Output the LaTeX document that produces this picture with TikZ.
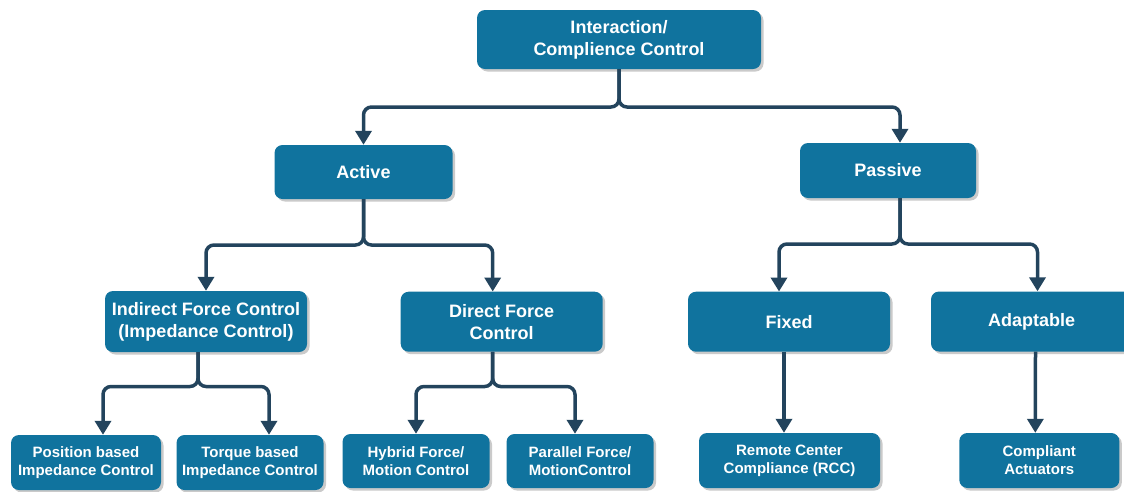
\documentclass[tikz,border=0pt]{standalone}
\usepackage{fontspec}
\setmainfont{Liberation Sans}
\usetikzlibrary{arrows.meta,shadows}

\definecolor{boxblue}{HTML}{10739E}
\definecolor{linenavy}{HTML}{23445D}

\tikzset{
  box/.style={fill=boxblue, rounded corners=8pt, text=white, align=center, inner sep=0pt,
    font=\bfseries\fontsize{18}{22}\selectfont,
    drop shadow={shadow xshift=2.5pt, shadow yshift=-2.5pt, fill=black!35, opacity=0.6}},
  leaf/.style={box, font=\bfseries\fontsize{15}{18}\selectfont},
  conn/.style={draw=linenavy, line width=3.5pt, rounded corners=8pt,
    -{Triangle[width=16pt,length=14pt]}},
}

\begin{document}
\begin{tikzpicture}[x=1pt,y=-1pt]
			\useasboundingbox (0,0) rectangle (1124,491);
			% boxes
			\node[box, minimum width=284pt, minimum height=59pt] (top) at (619,39.5) {Interaction/\\Complience Control};
			\node[box, minimum width=178pt, minimum height=54pt] (active) at (363.5,172) {Active};
			\node[box, minimum width=176pt, minimum height=55pt] (passive) at (888,170.5) {Passive};
			\node[box, minimum width=202pt, minimum height=61pt] (indirect) at (206,321.5) {Indirect Force Control\\(Impedance Control)};
			\node[box, minimum width=202pt, minimum height=60pt] (direct) at (501.7,321.7) {Direct Force\\Control};
			\node[box, minimum width=202pt, minimum height=60pt] (fixed) at (789,321.7) {Fixed};
			\node[box, minimum width=201pt, minimum height=60pt] (adapt) at (1031.5,321.5) {Adaptable};
			\node[leaf, minimum width=150pt, minimum height=55pt] (posimp) at (86,462.5) {Position based\\Impedance Control};
			\node[leaf, minimum width=147pt, minimum height=55pt] (torqimp) at (250,462.5) {Torque based\\Impedance Control};
			\node[leaf, minimum width=147pt, minimum height=54pt] (hybrid) at (416,461) {Hybrid Force/\\Motion Control};
			\node[leaf, minimum width=147pt, minimum height=54pt] (parallel) at (580,461) {Parallel Force/\\MotionControl};
			\node[leaf, minimum width=181pt, minimum height=55pt] (rcc) at (789.5,460.5) {Remote Center\\Compliance (RCC)};
			\node[leaf, minimum width=160pt, minimum height=55pt] (compl) at (1039.3,460.5) {Compliant\\Actuators};
			% junctions
			\coordinate (j0) at (619,107);
			\coordinate (j1) at (363.5,245);
			\coordinate (j2) at (900,244);
			\coordinate (j3) at (198,386.5);
			\coordinate (j4) at (492.7,386.5);
			% connectors
			\draw[conn] (top.south) -- (j0) -| (active.north);
			\draw[conn] (top.south) -- (j0) -| ([xshift=12pt]passive.north);
			\draw[conn] (active.south) -- (j1) -| (indirect.north);
			\draw[conn] (active.south) -- (j1) -| ([xshift=-9pt]direct.north);
			\draw[conn] ([xshift=12pt]passive.south) -- (j2) -| ([xshift=-10pt]fixed.north);
			\draw[conn] ([xshift=12pt]passive.south) -- (j2) -| ([xshift=6pt]adapt.north);
			\draw[conn] ([xshift=-8pt]indirect.south) -- (j3) -| ([xshift=17pt]posimp.north);
			\draw[conn] ([xshift=-8pt]indirect.south) -- (j3) -| ([xshift=19pt]torqimp.north);
			\draw[conn] ([xshift=-9pt]direct.south) -- (j4) -| (hybrid.north);
			\draw[conn] ([xshift=-9pt]direct.south) -- (j4) -| ([xshift=-5pt]parallel.north);
			\draw[conn] ([xshift=-5pt]fixed.south) -- ([xshift=-5.5pt]rcc.north);
			\draw[conn] ([xshift=4pt]adapt.south) -- ([xshift=-4pt]compl.north);
\end{tikzpicture}
\end{document}
